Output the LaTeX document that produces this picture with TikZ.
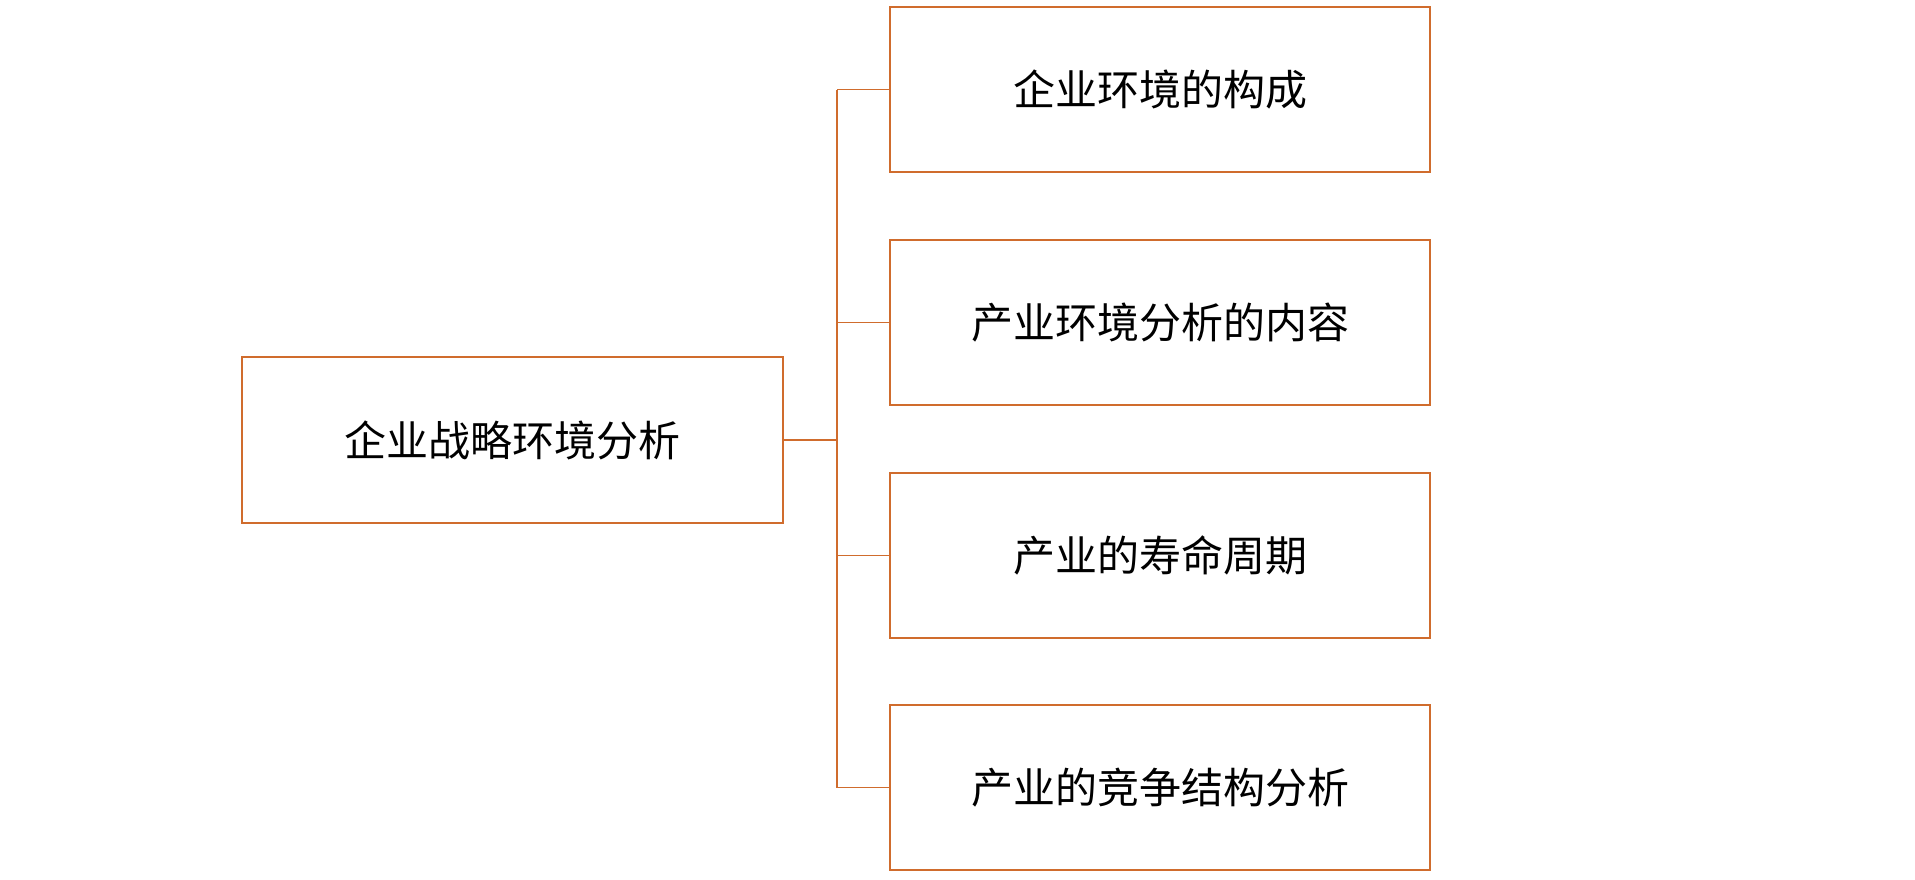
\documentclass[tikz,border=0pt]{standalone}
\usepackage{fontspec}
\setmainfont{Noto Sans CJK SC}
\definecolor{boxorange}{RGB}{208,108,45}
\tikzset{
	topic/.style={draw=boxorange, line width=1.7pt, minimum width=540pt, minimum height=165pt, inner sep=0pt, font=\fontsize{42}{50}\selectfont},
	link/.style={draw=boxorange, line width=1.5pt}
}

\begin{document}
\begin{tikzpicture}[x=1pt,y=-1pt]
		\useasboundingbox (0,0) rectangle (1915,879);
		\node[topic, minimum width=541pt, minimum height=166pt] (root) at (512.5, 440) {企业战略环境分析};
		\node[topic] (env) at (1160, 89.5) {企业环境的构成};
		\node[topic] (content) at (1160, 322.5) {产业环境分析的内容};
		\node[topic] (life) at (1160, 555.5) {产业的寿命周期};
		\node[topic] (compete) at (1160, 787.5) {产业的竞争结构分析};
		\coordinate (split) at (837, 440);
		\draw[link] (root.east) -- (split);
		\draw[link] (split |- env.west) -- (split |- compete.west);
		\foreach \n in {env, content, life, compete} {
			\draw[link] (split |- \n.west) -- (\n.west);
		}
	\end{tikzpicture}
\end{document}
